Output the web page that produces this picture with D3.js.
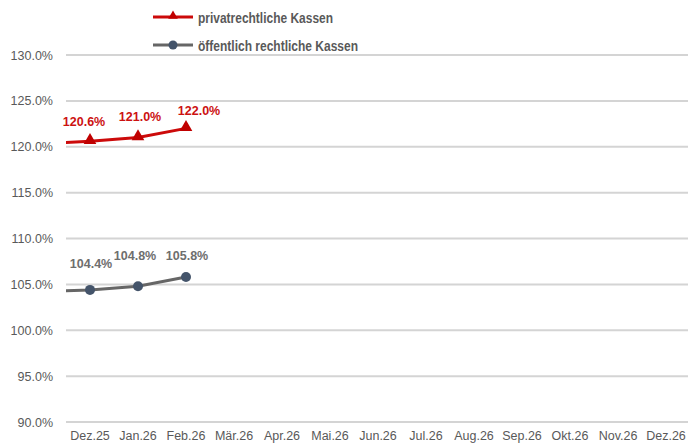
<!DOCTYPE html>
<html><head><meta charset="utf-8">
<script src="https://cdn.jsdelivr.net/npm/d3@7"></script>
<style>body{margin:0;background:#fff}svg{display:block;font-family:"Liberation Sans",Arial,sans-serif}</style>
</head><body>
<script>
const categories = ["Dez.25","Jan.26","Feb.26","Mär.26","Apr.26","Mai.26","Jun.26","Jul.26","Aug.26","Sep.26","Okt.26","Nov.26","Dez.26"];
const seriesNames = ["privatrechtliche Kassen","öffentlich rechtliche Kassen"];
const privValues = [120.6, 121.0, 122.0];
const oeffValues = [104.4, 104.8, 105.8];
// previous month (Nov.25), outside the visible range, only the line stub is seen
const privPrev = 120.3;
const oeffPrev = 104.2;
const yTicks = [90,95,100,105,110,115,120,125,130];
// label offsets (px) relative to the points
const privLabelDx = [-6, 2, 13], privLabelDy = [-15, -17, -13];
const oeffLabelDx = [1, -3, 1], oeffLabelDy = [-22, -26, -17];

const W = 688, H = 443;
const svg = d3.select("body").append("svg").attr("width", W).attr("height", H);
const x = d3.scaleLinear().domain([-0.5, 12.5]).range([66, 690]);
const y = d3.scaleLinear().domain([90, 130]).range([422, 55]);

svg.append("defs").append("clipPath").attr("id","clip")
  .append("rect").attr("x",66).attr("y",0).attr("width",W-66).attr("height",H);

// grid
svg.append("g").selectAll("line").data(yTicks).join("line")
  .attr("x1",66).attr("x2",W).attr("y1",d=>y(d)).attr("y2",d=>y(d))
  .attr("stroke","#d4d4d4").attr("stroke-width",2);
svg.append("g").selectAll("text").data(yTicks).join("text")
  .attr("x",53).attr("y",d=>y(d)+4.5).attr("text-anchor","end")
  .attr("font-size",12.5).attr("fill","#595959").text(d=>d.toFixed(1)+"%");
svg.append("g").selectAll("text").data(categories).join("text")
  .attr("x",(d,i)=>x(i)).attr("y",440).attr("text-anchor","middle")
  .attr("font-size",12.5).attr("fill","#595959").text(d=>d);

const line = d3.line().x(d=>x(d[0])).y(d=>y(d[1]));
function series(vals, prev, col, mcol, marker, labCol, dx, dy){
  const pts = [[-1, prev]].concat(vals.map((v,i)=>[i,v]));
  svg.append("path").attr("clip-path","url(#clip)").datum(pts).attr("d",line)
    .attr("fill","none").attr("stroke",col).attr("stroke-width",3);
  const g = svg.append("g");
  vals.forEach((v,i)=>{
    if(marker==="tri"){
      g.append("path").attr("d",d3.symbol(d3.symbolTriangle,70)())
        .attr("transform",`translate(${x(i)},${y(v)-1})`).attr("fill",mcol);
    } else {
      g.append("circle").attr("cx",x(i)).attr("cy",y(v)).attr("r",5).attr("fill",mcol);
    }
    svg.append("text").attr("x",x(i)+dx[i]).attr("y",y(v)+dy[i]).attr("text-anchor","middle")
      .attr("font-size",12.5).attr("font-weight","bold").attr("fill",labCol).text(v.toFixed(1)+"%");
  });
}
series(privValues, privPrev, "#cc0a0a", "#c00000", "tri", "#cc1111", privLabelDx, privLabelDy);
series(oeffValues, oeffPrev, "#666666", "#44546a", "circ", "#6e6e6e", oeffLabelDx, oeffLabelDy);

// legend
const leg = [{name:seriesNames[0], col:"#cc0a0a", mcol:"#c00000", m:"tri", y:17, w:135},
             {name:seriesNames[1], col:"#666666", mcol:"#44546a", m:"circ", y:45, w:160}];
leg.forEach(l=>{
  svg.append("line").attr("x1",153).attr("x2",193).attr("y1",l.y).attr("y2",l.y)
    .attr("stroke",l.col).attr("stroke-width",3);
  if(l.m==="tri") svg.append("path").attr("d",d3.symbol(d3.symbolTriangle,40)()).attr("transform",`translate(173,${l.y-1})`).attr("fill",l.mcol);
  else svg.append("circle").attr("cx",173).attr("cy",l.y).attr("r",4.5).attr("fill",l.mcol);
  svg.append("text").attr("x",198).attr("y",l.y+5.5).attr("font-size",15.5).attr("font-weight","bold")
    .attr("font-family","'Liberation Sans Narrow','Arial Narrow','Liberation Sans',sans-serif")
    .attr("textLength",l.w).attr("lengthAdjust","spacingAndGlyphs")
    .attr("fill","#595959").text(l.name);
});
</script>
</body></html>
